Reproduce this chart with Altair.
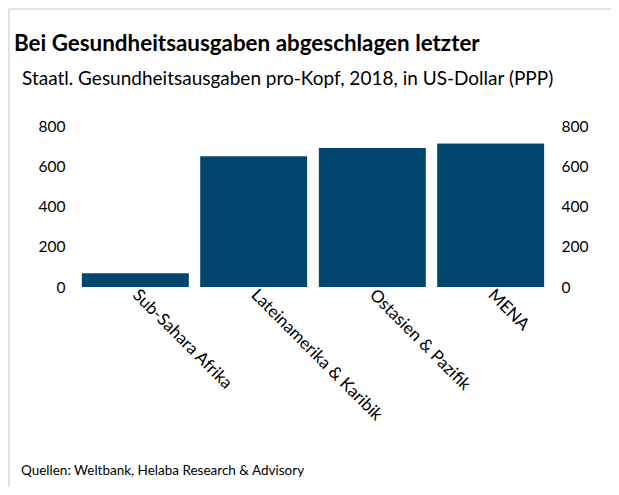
import altair as alt
import pandas as pd

regions = ["Sub-Sahara Afrika", "Lateinamerika & Karibik", "Ostasien & Pazifik", "MENA"]
values = [67, 649, 691, 712]
y_ticks = [0, 200, 400, 600, 800]

title_text = "Bei Gesundheitsausgaben abgeschlagen letzter"
subtitle_text = "Staatl. Gesundheitsausgaben pro-Kopf, 2018, in US-Dollar (PPP)"
footer_text = "Quellen: Weltbank, Helaba Research & Advisory"

df = pd.DataFrame({"region": regions, "value": values})

FONT = "Lato"
W, H = 474, 161
PL, PT = 68, 118
PR = 603 - PL - W
PB = 479 - PT - H

x_enc = alt.X("region:N", sort=regions, title=None,
              scale=alt.Scale(paddingInner=0.1, paddingOuter=0.05),
              axis=alt.Axis(labelAngle=45, labelAlign="left", labelBaseline="middle",
                            labelFontSize=17, labelFont=FONT, labelColor="#000000",
                            domain=False, ticks=False, labelPadding=5, labelLimit=300))

y_scale = alt.Scale(domain=[0, 800])


def yaxis(orient):
    return alt.Axis(values=y_ticks, orient=orient, domain=False, ticks=False, grid=False,
                    labelFontSize=15.5, labelFont=FONT, labelColor="#000000", labelPadding=11)


left = alt.Chart(df).mark_bar(color="#00466f").encode(
    x=x_enc, y=alt.Y("value:Q", scale=y_scale, title=None, axis=yaxis("left")))
right = alt.Chart(df).mark_bar(color="#00466f").encode(
    x=x_enc, y=alt.Y("value:Q", scale=y_scale, title=None, axis=yaxis("right")))

one = pd.DataFrame({"a": [0]})


def text_layer(txt, x, y, size, weight="normal"):
    return alt.Chart(pd.DataFrame({"t": [txt]})).mark_text(
        align="left", baseline="alphabetic", font=FONT, fontSize=size, fontWeight=weight,
        color="#000000"
    ).encode(x=alt.value(x), y=alt.value(y), text="t:N")


title = text_layer(title_text, -62, -75, 22.4, "bold")
subtitle = text_layer(subtitle_text, -54, -41, 19)
footer = text_layer(footer_text, -55, 349, 13.5)

border_top = alt.Chart(one).mark_rule(color="#e3e3e3", strokeWidth=2).encode(
    x=alt.value(-PL + 1), x2=alt.value(W + PR), y=alt.value(-PT + 1))
border_left = alt.Chart(one).mark_rule(color="#e3e3e3", strokeWidth=2).encode(
    x=alt.value(-PL + 1), y=alt.value(-PT + 1), y2=alt.value(H + PB))

chart = alt.layer(left, right, title, subtitle, footer, border_top, border_left).resolve_axis(
    y="independent"
).properties(
    width=W, height=H,
    autosize=alt.AutoSizeParams(type="none"),
    padding={"left": PL, "top": PT, "right": PR, "bottom": PB},
).configure_view(stroke=None)

chart.save("out.html", embed_options={"renderer": "svg", "actions": False})
